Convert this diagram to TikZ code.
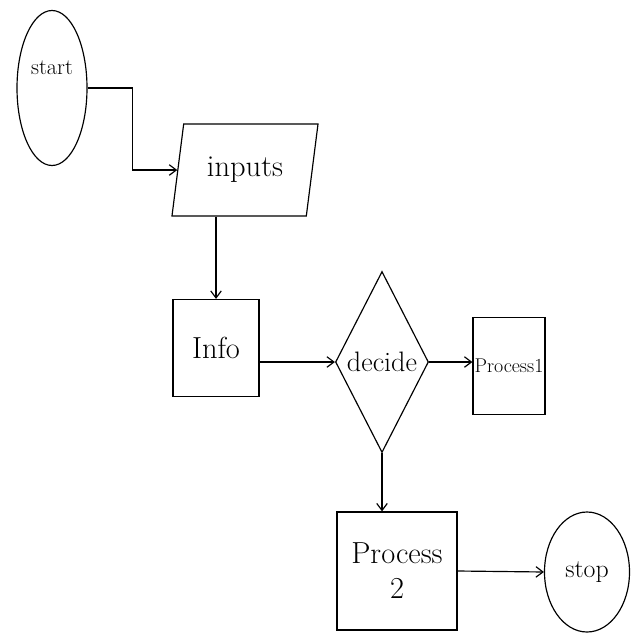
\documentclass[tikz,border=0pt]{standalone}
\usetikzlibrary{shapes.geometric,arrows.meta}
\begin{document}
\begin{tikzpicture}[x=0.03cm,y=-0.03cm,
  base/.style={draw,line width=1pt,inner sep=1pt,font=\fontsize{26}{30}\selectfont},
  term/.style={base,ellipse},
  io/.style={base,trapezium,trapezium left angle=75,trapezium right angle=105,trapezium stretches=true},
  procbox/.style={base,rectangle},
  choice/.style={base,diamond},
  conn/.style={line width=1pt,-{Straight Barb[length=6pt,width=9pt]}}]
\useasboundingbox (0,0) rectangle (640,640);
\node[term,minimum width=2.1cm,minimum height=4.65cm,
  label={[font=\fontsize{19}{22}\selectfont,yshift=0.6cm]center:start}] (start) at (52,88) {};
\node[io,minimum width=4.4cm,minimum height=2.76cm] (inputs) at (245,170) {inputs};
\node[procbox,minimum width=2.58cm,minimum height=2.91cm] (info) at (216,348) {Info};
\node[choice,minimum width=2.79cm,minimum height=5.43cm,
  label={[font=\fontsize{24}{28}\selectfont]center:decide}] (decide) at (382,362) {};
\node[procbox,minimum width=2.16cm,minimum height=2.91cm,font=\fontsize{17}{20}\selectfont] (p1) at (509,366) {Process1};
\node[procbox,minimum width=3.6cm,minimum height=3.54cm,align=center] (p2) at (397,571) {Process\\2};
\node[term,minimum width=2.55cm,minimum height=3.6cm,font=\fontsize{22}{26}\selectfont] (stop) at (587,572) {stop};
\draw[conn] (start.east) -- ++(45,0) |- (inputs.west);
\draw[conn] (info.north |- inputs.south) -- (info.north);
\draw[conn] (info.east |- decide.west) -- (decide.west);
\draw[conn] (decide.east) -- (decide.east -| p1.west);
\draw[conn] (decide.south) -- (decide.south |- p2.north);
\draw[conn] (p2.east) -- (stop.west);
\end{tikzpicture}
\end{document}
